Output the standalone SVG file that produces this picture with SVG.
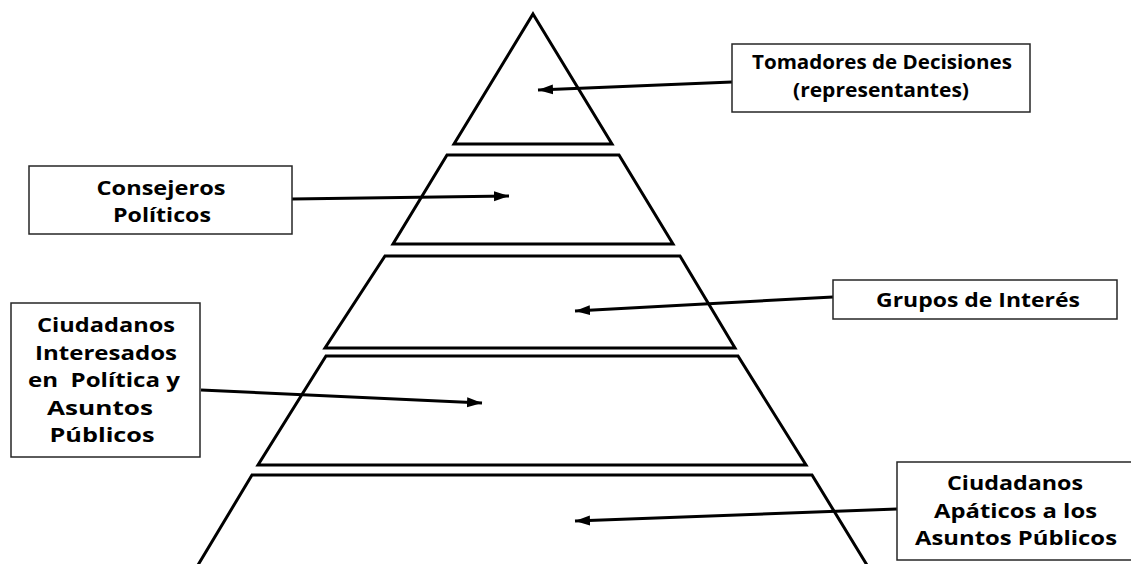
<svg xmlns="http://www.w3.org/2000/svg" width="1131" height="564" viewBox="0 0 1131 564">
  <style>
    .level { fill: #ffffff; stroke: #000000; stroke-width: 3; stroke-linejoin: miter; }
    .box { fill: #ffffff; stroke: #262626; stroke-width: 1.5; }
    .lbl { font-family: "Open Sans", "Liberation Sans", sans-serif; font-weight: bold; fill: #000000; text-anchor: middle; }
    .m { font-size: 19.6px; }
    .conn { fill: none; stroke: #000000; stroke-width: 3; marker-end: url(#arrow); }
  </style>
  <defs>
    <marker id="arrow" markerUnits="userSpaceOnUse" markerWidth="16" markerHeight="12" viewBox="0 0 16 12" refX="15" refY="6" orient="auto">
      <path d="M0,1 L15,6 L0,11 z" fill="#000000"/>
    </marker>
  </defs>
  <rect width="1131" height="564" fill="#ffffff"/>

  <g id="pyramid">
    <g id="level-1"><polygon class="level" points="533,14 612,144 454,144"/></g>
    <g id="level-2"><polygon class="level" points="447,155 619,155 673,244 393,244"/></g>
    <g id="level-3"><polygon class="level" points="385,256 680,256 735,348 325,348"/></g>
    <g id="level-4"><polygon class="level" points="326,356 738,356 806,465 258,465"/></g>
    <g id="level-5"><polyline class="level" points="195,570 252,475 812,475 870,570"/></g>
  </g>

  <g id="connectors">
    <line class="conn" x1="732" y1="82" x2="538" y2="90"/>
    <line class="conn" x1="292" y1="199" x2="509" y2="196"/>
    <line class="conn" x1="833" y1="297" x2="575" y2="311"/>
    <line class="conn" x1="201" y1="390" x2="482" y2="403"/>
    <line class="conn" x1="897" y1="509" x2="575" y2="521"/>
  </g>

  <g id="node-tomadores">
    <rect class="box" x="732" y="44" width="298" height="68"/>
    <text class="lbl m" x="882" y="69" textLength="260" lengthAdjust="spacingAndGlyphs">Tomadores de Decisiones</text>
    <text class="lbl m" x="881" y="97" textLength="176" lengthAdjust="spacingAndGlyphs">(representantes)</text>
  </g>

  <g id="node-consejeros">
    <rect class="box" x="29" y="166" width="263" height="68"/>
    <text class="lbl m" x="161" y="195" textLength="129" lengthAdjust="spacingAndGlyphs">Consejeros</text>
    <text class="lbl m" x="162" y="222" textLength="98" lengthAdjust="spacingAndGlyphs">Políticos</text>
  </g>

  <g id="node-grupos">
    <rect class="box" x="833" y="280" width="284" height="39"/>
    <text class="lbl m" x="978" y="307" textLength="204" lengthAdjust="spacingAndGlyphs">Grupos de Interés</text>
  </g>

  <g id="node-interesados">
    <rect class="box" x="11" y="303" width="189" height="154"/>
    <text class="lbl m" x="106" y="332" textLength="138" lengthAdjust="spacingAndGlyphs">Ciudadanos</text>
    <text class="lbl m" x="106" y="359.5" textLength="142" lengthAdjust="spacingAndGlyphs">Interesados</text>
    <text class="lbl m" x="104" y="387" textLength="152" lengthAdjust="spacingAndGlyphs" xml:space="preserve">en  Política y</text>
    <text class="lbl m" x="100" y="414.5" textLength="106" lengthAdjust="spacingAndGlyphs">Asuntos</text>
    <text class="lbl m" x="102" y="442" textLength="105" lengthAdjust="spacingAndGlyphs">Públicos</text>
  </g>

  <g id="node-apaticos">
    <rect class="box" x="897" y="462" width="240" height="98"/>
    <text class="lbl m" x="1015" y="490" textLength="136" lengthAdjust="spacingAndGlyphs">Ciudadanos</text>
    <text class="lbl m" x="1015.5" y="518" textLength="163" lengthAdjust="spacingAndGlyphs">Apáticos a los</text>
    <text class="lbl m" x="1016" y="545" textLength="202" lengthAdjust="spacingAndGlyphs">Asuntos Públicos</text>
  </g>
</svg>
